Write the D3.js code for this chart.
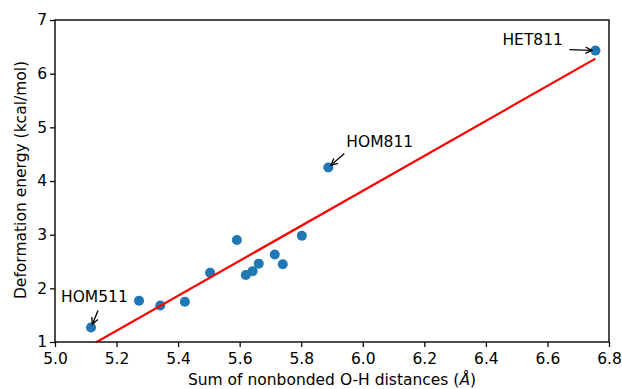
<!DOCTYPE html>
<html>
<head>
<meta charset="utf-8">
<script src="https://cdn.jsdelivr.net/npm/d3@7"></script>
<style>
  html, body { margin: 0; padding: 0; background: #fff; }
  svg { display: block; font-family: "DejaVu Sans", sans-serif; }
</style>
</head>
<body>
<svg id="chart" width="622" height="389"></svg>
<script>
// Sum of nonbonded O-H distances (Å) and deformation energy (kcal/mol)
const distances = [5.117, 5.273, 5.342, 5.422, 5.504, 5.591, 5.620, 5.642, 5.662, 5.714, 5.740, 5.802, 5.888, 6.756];
const energies  = [1.27, 1.77, 1.68, 1.75, 2.29, 2.90, 2.25, 2.32, 2.46, 2.63, 2.45, 2.98, 4.25, 6.43];

// Linear fit drawn across the data range
const fitX = [5.117, 6.756];
const fitY = [0.94, 6.28];

// Labelled structures: index into the data arrays
const labelNames = ["HOM511", "HOM811", "HET811"];
const labelIndex = [0, 12, 13];

const xTicks = [5.0, 5.2, 5.4, 5.6, 5.8, 6.0, 6.2, 6.4, 6.6, 6.8];
const yTicks = [1, 2, 3, 4, 5, 6, 7];

const svg = d3.select("#chart");
const m = { left: 55, right: 13, top: 20, bottom: 47 };
const W = 622, H = 389;

const x = d3.scaleLinear().domain([5.0, 6.8]).range([m.left, W - m.right]);
const y = d3.scaleLinear().domain([1, 7]).range([H - m.bottom, m.top]);

svg.append("defs").append("clipPath").attr("id", "plotclip")
  .append("rect")
  .attr("x", m.left).attr("y", m.top)
  .attr("width", W - m.left - m.right).attr("height", H - m.top - m.bottom);

// Markers
svg.append("g").selectAll("circle")
  .data(distances)
  .join("circle")
  .attr("cx", d => x(d))
  .attr("cy", (d, i) => y(energies[i]))
  .attr("r", 5)
  .attr("fill", "#1f77b4");

// Fit line
svg.append("line")
  .attr("clip-path", "url(#plotclip)")
  .attr("x1", x(fitX[0])).attr("y1", y(fitY[0]))
  .attr("x2", x(fitX[1])).attr("y2", y(fitY[1]))
  .attr("stroke", "#ff0000")
  .attr("stroke-width", 2.2);

// Axes
const fs = 15.5;
const xAxis = svg.append("g")
  .attr("transform", `translate(0,${H - m.bottom})`)
  .call(d3.axisBottom(x).tickValues(xTicks).tickFormat(d3.format(".1f")).tickSizeOuter(0).tickSize(5));
const yAxis = svg.append("g")
  .attr("transform", `translate(${m.left},0)`)
  .call(d3.axisLeft(y).tickValues(yTicks).tickFormat(d3.format("d")).tickSizeOuter(0).tickSize(5));
[xAxis, yAxis].forEach(g => {
  g.select(".domain").remove();
  g.selectAll(".tick line").attr("stroke", "#000").attr("stroke-width", 1.25);
  g.selectAll(".tick text").attr("fill", "#000").style("font-size", fs + "px")
    .style("font-family", "'DejaVu Sans', sans-serif");
});
xAxis.selectAll(".tick text").attr("dy", "0.71em").attr("y", 11);
yAxis.selectAll(".tick text").attr("x", -8);

// Frame
svg.append("rect")
  .attr("x", m.left).attr("y", m.top)
  .attr("width", W - m.left - m.right).attr("height", H - m.top - m.bottom)
  .attr("fill", "none").attr("stroke", "#000").attr("stroke-width", 1.4);

// Axis titles
const xt = svg.append("text")
  .attr("x", (m.left + W - m.right) / 2).attr("y", 385)
  .attr("text-anchor", "middle").style("font-size", fs + "px");
xt.append("tspan").text("Sum of nonbonded O-H distances (");
xt.append("tspan").style("font-style", "italic").text("Å");
xt.append("tspan").text(")");

svg.append("text")
  .attr("transform", `translate(26,${(m.top + H - m.bottom) / 2 - 1}) rotate(-90)`)
  .attr("text-anchor", "middle").style("font-size", fs + "px")
  .text("Deformation energy (kcal/mol)");

// Annotations: text offsets and arrow tails in pixels relative to the point
const annot = [
  { tx: -30, ty: -26, ax: 7, ay: -17 },
  { tx: 18, ty: -21, ax: 16, ay: -14 },
  { tx: -93, ty: -6, ax: -26, ay: -1 }
];
const ag = svg.append("g");
labelIndex.forEach((idx, k) => {
  const px = x(distances[idx]), py = y(energies[idx]);
  const a = annot[k];
  ag.append("text")
    .attr("x", px + a.tx).attr("y", py + a.ty)
    .style("font-size", fs + "px").attr("fill", "#000")
    .text(labelNames[k]);
  // arrow shaft ending just outside the marker
  const sx = px + a.ax, sy = py + a.ay;
  const dx = px - sx, dy = py - sy, len = Math.hypot(dx, dy);
  const ux = dx / len, uy = dy / len;
  const ex = px - ux * 3.5, ey = py - uy * 3.5;
  ag.append("line")
    .attr("x1", sx).attr("y1", sy).attr("x2", ex).attr("y2", ey)
    .attr("stroke", "#000").attr("stroke-width", 1.3);
  const hl = 6.5, hw = 3.2;
  const p1 = [ex - ux * hl + uy * hw, ey - uy * hl - ux * hw];
  const p2 = [ex - ux * hl - uy * hw, ey - uy * hl + ux * hw];
  ag.append("path")
    .attr("d", `M${p1[0]},${p1[1]} L${ex},${ey} L${p2[0]},${p2[1]}`)
    .attr("fill", "none").attr("stroke", "#000").attr("stroke-width", 1.3);
});
</script>
</body>
</html>
